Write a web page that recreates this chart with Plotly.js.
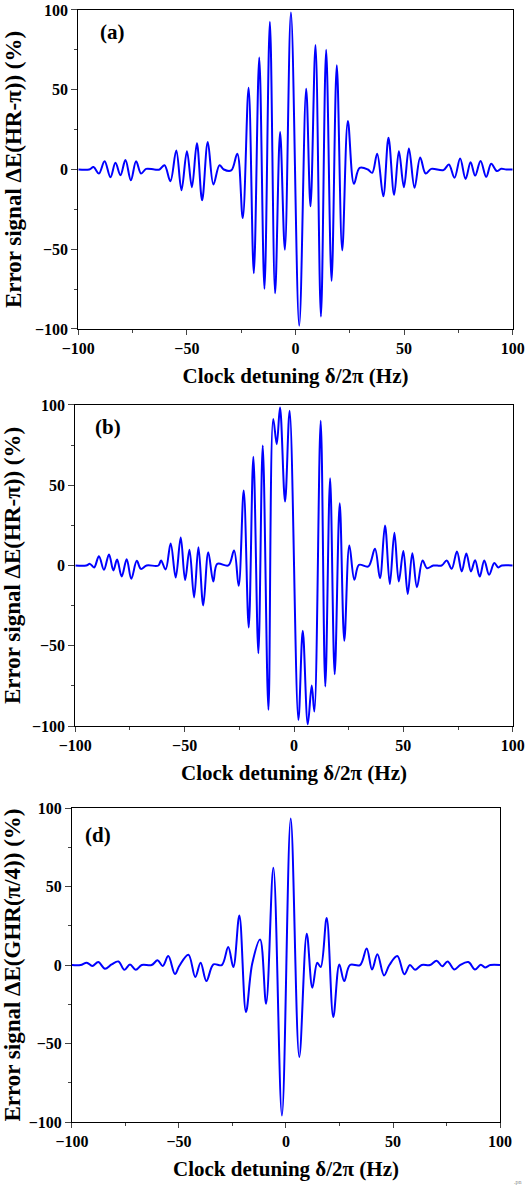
<!DOCTYPE html>
<html>
<head>
<meta charset="utf-8">
<script src="https://cdn.plot.ly/plotly-3.0.1.min.js"></script>
<style>html,body{margin:0;padding:0;background:#fff;}#chart{width:527px;height:1189px;}</style>
</head>
<body>
<div id="chart"></div>
<script>
// Panel (a): Error signal ΔE(HR-π)
var xA = [-100,-95,-93.0,-90.5,-87.9,-85.2,-82.9,-80.6,-78.3,-75.8,-73.4,-71.1,-68.8,-65,-62.6,-60.3,-57.6,-54.9,-52.5,-50.0,-47.7,-45.4,-43.0,-40.4,-37.8,-35.0,-33.0,-29.6,-26.8,-24.3,-21.6,-19.2,-16.7,-14.3,-11.8,-9.4,-7.1,-4.9,-2.1,1.7,4.9,6.9,9.2,11.7,14.1,16.6,19.0,21.5,24.1,26.9,29.5,33.3,35.3,37.6,40.4,42.8,45.4,47.6,49.9,52.2,54.8,57.4,59.9,62.5,68.1,70.6,73.2,75.8,78.3,80.6,82.7,85.2,87.8,90.1,92.7,94.7,97,100];
var yA = [0,0,1.5,-2.5,5.2,-4.8,4.2,-3.6,5.9,-6.7,5.2,-2.5,0.4,0,0,2.7,-7.3,11.9,-13.0,11.5,-11.1,16.4,-19.3,17.2,-9.4,2.7,0,-0.6,9.9,-30.4,51.3,-65.0,70.2,-74.8,92.6,-77.6,23.5,-50.3,98.5,-98,50.7,-23.1,78.0,-92.2,75.0,-69.8,65.4,-50.7,30.4,-9.0,1.0,0,-2.1,9.9,-16.8,19.9,-15.9,11.5,-11.1,13.2,-11.5,7.5,-2.5,0.4,-0.4,3.1,-5.2,6.9,-5.9,4.6,-3.8,5.4,-4.6,3.6,-1.0,0.4,0,0];

// Panel (b): Error signal ΔE(HR-π)
var xB = [-100,-95,-93.3,-91.4,-89.2,-86.9,-84.6,-82.6,-80.9,-78.8,-76.5,-74.4,-71.9,-70.0,-67.4,-62.0,-60.8,-58.7,-56.4,-54.1,-51.8,-49.8,-47.8,-45.7,-43.7,-41.5,-39.2,-36.9,-35.1,-30.0,-27.4,-25.3,-23.0,-20.7,-18.6,-16.3,-14.3,-11.7,-9.5,-7.9,-6.4,-4.1,-2.0,2.0,4.0,6.3,8.1,9.3,12.2,14.3,16.5,18.6,20.9,23.0,25.3,27.6,29.7,34.0,37.0,39.3,41.6,43.8,45.9,47.9,50.0,52.0,54.1,56.2,58.8,60.8,63.7,67.5,69.8,72.1,74.5,76.7,78.8,80.9,82.8,84.9,87.0,89.2,91.6,93.4,95.0,100];
var yB = [0,0,1.0,-1.2,5.8,-2.7,6.9,-3.1,3.7,-6.9,3.9,-8.3,2.9,-2.1,0,0,3.1,-2.5,13.7,-7.5,17.4,-9.1,9.8,-19.9,11.4,-24.9,8.3,-10.0,1.0,0,9.3,-12.7,46.7,-38.6,67.7,-54.6,74.8,-89.9,91.2,75.6,98.4,39.9,96.4,-96.2,-40.7,-98.9,-74.8,-91.0,90.1,-75.4,54.4,-67.7,38.8,-46.9,12.5,-8.9,0.4,-0.6,10.4,-7.9,24.9,-11.6,20.4,-10.0,9.1,-17.7,7.7,-13.5,3.1,-1.7,0,0,3.1,-2.1,8.7,-3.7,7.5,-3.7,3.3,-6.9,3.1,-5.8,1.5,-1.2,0,0];

// Panel (d): Error signal ΔE(GHR(π/4))
var xD = [-100,-96,-93.1,-90.5,-87.7,-84.6,-81.5,-78.3,-75.5,-72.9,-70.2,-67.4,-62.8,-60.0,-57.6,-55.0,-51.9,-49.8,-45.6,-42.4,-39.9,-37.2,-33.9,-30.0,-27.0,-24.6,-21.8,-18.7,-15.8,-12.1,-9.3,-5.9,-1.9,2.2,6.2,9.7,12.3,14.6,16.2,19.0,22.1,24.9,27.2,29.9,34.6,37.7,40.2,42.7,45.8,48.3,52.0,55.3,57.9,60.3,63.4,67.3,70.4,73.0,75.5,78.7,81.3,85.2,88.3,91.0,93.0,95.5,100];
var yD = [0,0,1.5,-0.6,1.9,-2.3,0.4,2.3,-3.0,0.4,-3.0,0,0,3.0,-0.6,5.7,-5.7,-0.4,6.6,-7.6,1.5,-10.2,0.4,0,11.5,-1.3,31.6,-29.9,0.8,16.3,-24.6,62.0,-95.8,93.4,-58.6,20.0,-14.4,1.5,-1.3,29.9,-33.1,0.4,-10.2,0,0,10.6,-2.8,6.8,-6.6,0,5.7,-5.9,0,-3.0,0,0,2.8,-0.8,2.3,-2.8,0,1.9,-2.8,0.2,-1.5,0,0];

var xTickVals = [-100,-50,0,50,100];
var yTickVals = [-100,-50,0,50,100];
var panelLabels = ['(a)','(b)','(d)'];
var xTitle = 'Clock detuning δ/2π (Hz)';
var yTitles = ['Error signal ΔE(HR-π)) (%)','Error signal ΔE(HR-π)) (%)','Error signal ΔE(GHR(π/4)) (%)'];

var FONT = 'Liberation Serif, Times New Roman, serif';
var lineStyle = {color:'#0000FF', width:2, shape:'spline', smoothing:1};

var traces = [
  {x:xA, y:yA, xaxis:'x', yaxis:'y', mode:'lines', line:lineStyle, hoverinfo:'skip'},
  {x:xB, y:yB, xaxis:'x2', yaxis:'y2', mode:'lines', line:lineStyle, hoverinfo:'skip'},
  {x:xD, y:yD, xaxis:'x3', yaxis:'y3', mode:'lines', line:lineStyle, hoverinfo:'skip'}
];

function xax(dom, anchor){
  return {domain:dom, anchor:anchor, range:[-100,100], tickvals:xTickVals, ticks:'outside', ticklen:5, tickwidth:1,
    minor:{dtick:25, ticks:'outside', ticklen:3, tickwidth:1, tick0:-100}, showline:true, linecolor:'#000', linewidth:1, mirror:true,
    showgrid:false, zeroline:false, tickfont:{family:FONT, size:16, color:'#000', weight:'bold'},
    title:{text:'<b>'+xTitle+'</b>', font:{family:FONT, size:21, color:'#000'}, standoff:12}};
}
function yax(dom, anchor, t){
  return {domain:dom, anchor:anchor, range:[-100,100], tickvals:yTickVals, ticks:'outside', ticklen:6, tickwidth:1,
    minor:{dtick:25, ticks:'outside', ticklen:3, tickwidth:1, tick0:-100}, showline:true, linecolor:'#000', linewidth:1, mirror:true,
    showgrid:false, zeroline:false, tickfont:{family:FONT, size:16, color:'#000', weight:'bold'},
    title:{text:'<b>'+t+'</b>', font:{family:FONT, size:23, color:'#000'}, standoff:6}};
}

var layout = {
  width:527, height:1189, showlegend:false, paper_bgcolor:'#fff', plot_bgcolor:'#fff',
  margin:{l:0, r:0, t:0, b:0},
  xaxis: xax([0.1486,0.9729],'y'),
  yaxis: yax([0.7233,0.9916],'x', yTitles[0]),
  xaxis2: xax([0.1429,0.9729],'y2'),
  yaxis2: yax([0.3894,0.6594],'x2', yTitles[1]),
  xaxis3: xax([0.1366,0.9488],'y3'),
  yaxis3: yax([0.0563,0.3204],'x3', yTitles[2]),
  annotations: [
    {xref:'x domain', yref:'y domain', x:0.045, y:0.93, xanchor:'left', yanchor:'middle', showarrow:false, text:'<b>'+panelLabels[0]+'</b>', font:{family:FONT, size:21, color:'#000'}},
    {xref:'x2 domain', yref:'y2 domain', x:0.04, y:0.93, xanchor:'left', yanchor:'middle', showarrow:false, text:'<b>'+panelLabels[1]+'</b>', font:{family:FONT, size:21, color:'#000'}},
    {xref:'x3 domain', yref:'y3 domain', x:0.025, y:0.915, xanchor:'left', yanchor:'middle', showarrow:false, text:'<b>'+panelLabels[2]+'</b>', font:{family:FONT, size:21, color:'#000'}},
    {xref:'paper', yref:'paper', x:0.995, y:0.006, xanchor:'right', yanchor:'middle', showarrow:false, text:'.pn', font:{family:FONT, size:6, color:'#888'}}
  ]
};

Plotly.newPlot('chart', traces, layout, {staticPlot:true, displayModeBar:false});
</script>
</body>
</html>
